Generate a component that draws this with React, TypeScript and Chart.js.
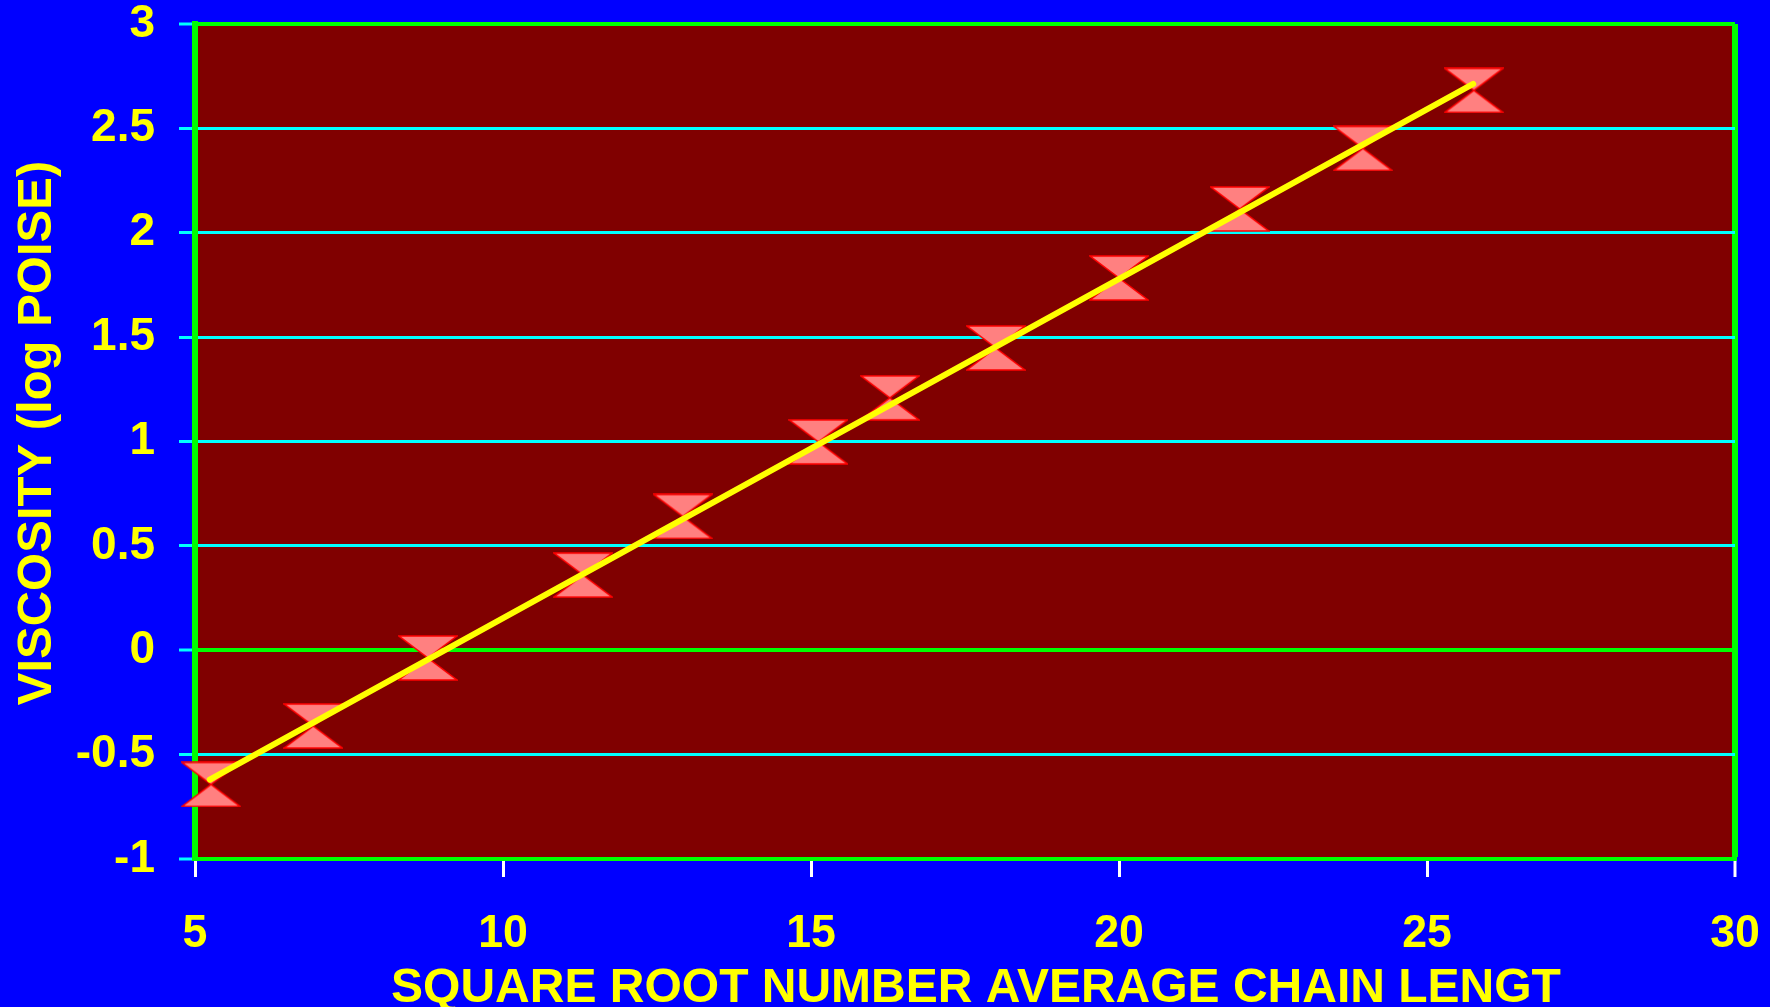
import React, { useEffect, useRef } from "react";
import { Chart, registerables } from "chart.js";

Chart.register(...registerables);

// ---- data ----
const chainLength = [5.26, 6.92, 8.78, 11.3, 12.92, 15.12, 16.28, 18.0, 20.0, 21.96, 23.96, 25.76];
const logViscosity = [-0.643, -0.363, -0.037, 0.36, 0.641, 0.998, 1.209, 1.448, 1.783, 2.114, 2.404, 2.682];
const fitX = [5.24, 25.75];
const fitY = [-0.62, 2.713];
const xTicks = [5, 10, 15, 20, 25, 30];
const yTicks = [-1, -0.5, 0, 0.5, 1, 1.5, 2, 2.5, 3];
const xTitle = "SQUARE ROOT NUMBER AVERAGE CHAIN LENGT";
const yTitle = "VISCOSITY (log POISE)";

const BLUE = "#0000FF";
const PLOT_BG = "#800000";
const LIME = "#00FF00";
const CYAN = "#00FFFF";
const YELLOW = "#FFFF00";
const SANS = "'Liberation Sans', Arial, sans-serif";

function makeHourglass(): HTMLCanvasElement {
  const w = 60;
  const h = 46;
  const c = document.createElement("canvas");
  c.width = w;
  c.height = h;
  const g = c.getContext("2d")!;
  g.beginPath();
  g.moveTo(1, 1);
  g.lineTo(w - 1, 1);
  g.lineTo(w / 2, h / 2);
  g.lineTo(w - 1, h - 1);
  g.lineTo(1, h - 1);
  g.lineTo(w / 2, h / 2);
  g.closePath();
  g.fillStyle = "#FF8080";
  g.fill();
  g.lineWidth = 1.5;
  g.strokeStyle = "#FF0000";
  g.lineJoin = "miter";
  g.stroke();
  return c;
}

// draw text with an optional horizontal squeeze (reference font is slightly condensed)
function squeezedText(ctx: CanvasRenderingContext2D, text: string, x: number, y: number, squeeze: number) {
  ctx.save();
  ctx.translate(x, y);
  ctx.scale(squeeze, 1);
  ctx.fillText(text, 0, 0);
  ctx.restore();
}

const backgroundPlugin = {
  id: "bgPlugin",
  beforeDraw(chart: any) {
    const { ctx, chartArea } = chart;
    ctx.save();
    ctx.fillStyle = BLUE;
    ctx.fillRect(0, 0, chart.width, chart.height);
    ctx.fillStyle = PLOT_BG;
    ctx.fillRect(chartArea.left, chartArea.top, chartArea.right - chartArea.left, chartArea.bottom - chartArea.top);
    ctx.restore();
  },
};

const textPlugin = {
  id: "axisText",
  afterDraw(chart: any) {
    const { ctx } = chart;
    const xs = chart.scales.x;
    ctx.save();
    ctx.fillStyle = YELLOW;
    ctx.textAlign = "center";
    ctx.textBaseline = "alphabetic";

    // x tick labels, positioned by the x scale
    ctx.font = `bold 47px ${SANS}`;
    const labelY = chart.chartArea.bottom + 88;
    xs.ticks.forEach((t: any) => {
      squeezedText(ctx, String(t.value), xs.getPixelForValue(t.value), labelY, 0.95);
    });

    // x title
    ctx.font = `bold 48px ${SANS}`;
    squeezedText(ctx, xTitle, 976, 1002, 1);

    // y title
    ctx.save();
    ctx.translate(51, 433);
    ctx.rotate(-Math.PI / 2);
    ctx.font = `bold 49px ${SANS}`;
    squeezedText(ctx, yTitle, 0, 0, 1);
    ctx.restore();

    ctx.restore();
  },
};

export default function App() {
  const ref = useRef<HTMLCanvasElement | null>(null);

  useEffect(() => {
    document.body.style.margin = "0";
    document.body.style.background = BLUE;
    document.body.style.overflow = "hidden";
    if (!ref.current) return;
    const marker = makeHourglass();

    const chart = new Chart(ref.current, {
      type: "scatter",
      data: {
        datasets: [
          {
            label: "fit",
            data: fitX.map((x, i) => ({ x, y: fitY[i] })),
            showLine: true,
            borderColor: YELLOW,
            borderWidth: 6,
            borderCapStyle: "round",
            pointRadius: 0,
            pointHoverRadius: 0,
            order: 0,
            clip: false,
          } as any,
          {
            label: "viscosity",
            data: chainLength.map((x, i) => ({ x, y: logViscosity[i] })),
            pointStyle: marker as any,
            pointRadius: 23,
            showLine: false,
            order: 1,
            clip: false,
          } as any,
        ],
      },
      options: {
        responsive: false,
        animation: false,
        events: [],
        layout: { padding: { top: 22, right: 35, left: 0, bottom: 0 } },
        plugins: {
          legend: { display: false },
          tooltip: { enabled: false },
          title: { display: false },
        },
        scales: {
          x: {
            type: "linear",
            min: 5,
            max: 30,
            afterBuildTicks: (scale: any) => {
              scale.ticks = xTicks.map((v) => ({ value: v }));
            },
            afterFit: (scale: any) => {
              scale.height = 148;
              scale.paddingLeft = 0;
              scale.paddingRight = 0;
            },
            ticks: {
              display: false,
              autoSkip: false,
            },
            grid: {
              drawOnChartArea: true,
              drawTicks: true,
              color: (ctx: any) => (ctx.tick && ctx.tick.value === 30 ? LIME : "rgba(0,0,0,0)"),
              lineWidth: (ctx: any) => (ctx.tick && ctx.tick.value === 30 ? 6 : 3),
              tickColor: "#FFFFFF",
              tickWidth: 3,
              tickLength: 18,
            },
            border: { display: true, color: LIME, width: 4 },
          },
          y: {
            type: "linear",
            min: -1,
            max: 3,
            afterBuildTicks: (scale: any) => {
              scale.ticks = yTicks.map((v) => ({ value: v }));
            },
            afterFit: (scale: any) => {
              scale.width = 195;
              scale.paddingTop = 0;
              scale.paddingBottom = 0;
            },
            ticks: {
              color: YELLOW,
              font: { family: SANS, size: 46, weight: "bold", lineHeight: 1.0 },
              padding: 24,
              autoSkip: false,
              callback: (v: any) => String(v),
            },
            grid: {
              color: (ctx: any) => {
                const v = ctx.tick ? ctx.tick.value : null;
                return v === 0 || v === -1 || v === 3 ? LIME : CYAN;
              },
              lineWidth: (ctx: any) => {
                const v = ctx.tick ? ctx.tick.value : null;
                return v === 0 || v === -1 || v === 3 ? 4 : 3;
              },
              tickColor: CYAN,
              tickWidth: 3,
              tickLength: 16,
            },
            border: { display: true, color: LIME, width: 6 },
          },
        },
      },
      plugins: [backgroundPlugin, textPlugin],
    });

    return () => chart.destroy();
  }, []);

  return (
    <div style={{ width: 1770, height: 1007, background: BLUE }}>
      <canvas ref={ref} width={1770} height={1007} style={{ display: "block" }} />
    </div>
  );
}
